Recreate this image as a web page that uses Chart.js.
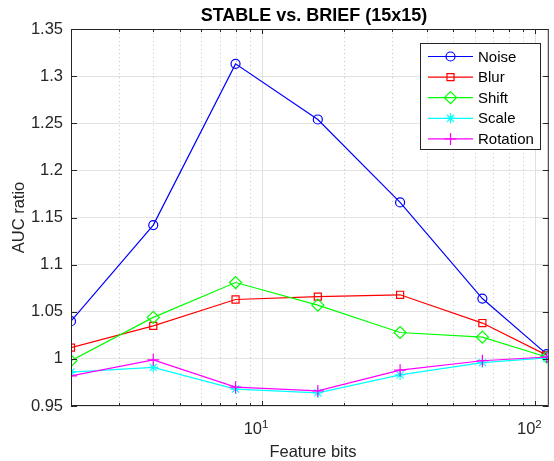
<!DOCTYPE html>
<html>
<head>
<meta charset="utf-8">
<script src="https://cdn.jsdelivr.net/npm/chart.js@4/dist/chart.umd.min.js"></script>
<style>
  html, body { margin: 0; padding: 0; overflow: hidden; background: #fff; }
  canvas { display: block; }
</style>
</head>
<body>
<canvas id="aucChart" width="556" height="461"></canvas>
<script>
// dados
const featureBits = [2, 4, 8, 16, 32, 64, 110];
const noise    = [1.040, 1.142, 1.313, 1.254, 1.166, 1.064, 1.005];
const blur     = [1.012, 1.035, 1.063, 1.066, 1.068, 1.038, 1.004];
const shift    = [0.998, 1.044, 1.081, 1.057, 1.028, 1.023, 1.002];
const scaleSer = [0.986, 0.991, 0.968, 0.964, 0.983, 0.996, 1.001];
const rotation = [0.982, 0.999, 0.970, 0.966, 0.988, 0.998, 1.002];

const yTicks = [0.95, 1, 1.05, 1.1, 1.15, 1.2, 1.25, 1.3, 1.35];
const xMajor = [10, 100];
const xMinor = [2, 3, 4, 5, 6, 7, 8, 9, 20, 30, 40, 50, 60, 70, 80, 90];

const FONT = '"Liberation Sans", Arial, Helvetica, sans-serif';
const AXIS = '#262626';

const series = [
  { label: 'Noise',    data: noise,    color: '#0000ff', style: 'circle',  r: 4.5 },
  { label: 'Blur',     data: blur,     color: '#ff0000', style: 'rect',    r: 5 },
  { label: 'Shift',    data: shift,    color: '#00ff00', style: 'rectRot', r: 6 },
  { label: 'Scale',    data: scaleSer, color: '#00ffff', style: 'star',    r: 5 },
  { label: 'Rotation', data: rotation, color: '#ff00ff', style: 'cross',   r: 6 },
];

const datasets = series.map((s, i) => ({
  label: s.label,
  data: featureBits.map((b, j) => ({ x: b, y: s.data[j] })),
  borderColor: s.color,
  backgroundColor: 'rgba(0,0,0,0)',
  borderWidth: 1.2,
  pointStyle: s.style,
  pointRadius: s.r,
  pointBorderColor: s.color,
  pointBackgroundColor: 'rgba(0,0,0,0)',
  pointBorderWidth: 1.2,
  tension: 0,
  order: series.length - i,
}));

function drawMarker(ctx, s, x, y) {
  if (Chart.helpers && Chart.helpers.drawPoint) {
    ctx.strokeStyle = s.color;
    ctx.fillStyle = 'rgba(0,0,0,0)';
    ctx.lineWidth = 1.2;
    Chart.helpers.drawPoint(ctx, { pointStyle: s.style, radius: s.r, rotation: 0, borderWidth: 1.2 }, x, y);
  }
}

// eixos, grade, rótulos e legenda no estilo MATLAB
const matlabFrame = {
  id: 'matlabFrame',
  beforeDatasetsDraw(chart) {
    const { ctx, chartArea: a, scales: { x } } = chart;
    ctx.save();
    ctx.lineWidth = 1;
    ctx.strokeStyle = '#c8c8c8';
    ctx.setLineDash([1, 3]);
    xMinor.forEach(v => {
      const px = Math.round(x.getPixelForValue(v)) + 0.5;
      ctx.beginPath(); ctx.moveTo(px, a.top); ctx.lineTo(px, a.bottom); ctx.stroke();
    });
    ctx.setLineDash([]);
    ctx.strokeStyle = '#e0e0e0';
    xMajor.forEach(v => {
      const px = Math.round(x.getPixelForValue(v)) + 0.5;
      ctx.beginPath(); ctx.moveTo(px, a.top); ctx.lineTo(px, a.bottom); ctx.stroke();
    });
    ctx.restore();
  },
  afterDatasetsDraw(chart) {
    const { ctx, chartArea: a, scales: { x, y } } = chart;
    ctx.save();
    ctx.strokeStyle = AXIS;
    ctx.lineWidth = 1;
    const L = a.left + 0.5, R = a.right - 0.5, T = a.top + 0.5, B = a.bottom - 0.5;
    ctx.beginPath();
    ctx.moveTo(L, T); ctx.lineTo(R, T); ctx.lineTo(R, B); ctx.lineTo(L, B); ctx.closePath();
    ctx.stroke();

    // marcas dos eixos
    ctx.beginPath();
    yTicks.forEach(v => {
      const py = Math.round(y.getPixelForValue(v)) + 0.5;
      ctx.moveTo(a.left, py); ctx.lineTo(a.left + 6, py);
      ctx.moveTo(a.right, py); ctx.lineTo(a.right - 6, py);
    });
    xMajor.forEach(v => {
      const px = Math.round(x.getPixelForValue(v)) + 0.5;
      ctx.moveTo(px, a.bottom); ctx.lineTo(px, a.bottom - 5);
      ctx.moveTo(px, a.top); ctx.lineTo(px, a.top + 5);
    });
    xMinor.forEach(v => {
      const px = Math.round(x.getPixelForValue(v)) + 0.5;
      ctx.moveTo(px, a.bottom); ctx.lineTo(px, a.bottom - 3);
      ctx.moveTo(px, a.top); ctx.lineTo(px, a.top + 3);
    });
    ctx.stroke();

    // rótulos 10^1, 10^2
    ctx.fillStyle = AXIS;
    xMajor.forEach(v => {
      const px = x.getPixelForValue(v);
      const exp = String(Math.round(Math.log10(v)));
      ctx.font = '16.5px ' + FONT;
      ctx.textAlign = 'right';
      ctx.textBaseline = 'alphabetic';
      ctx.fillText('10', px, 434);
      ctx.font = '11.5px ' + FONT;
      ctx.textAlign = 'left';
      ctx.fillText(exp, px, 428);
    });

    // título e nomes dos eixos
    ctx.font = 'bold 18px ' + FONT;
    ctx.textAlign = 'center';
    ctx.fillStyle = '#000';
    ctx.fillText('STABLE vs. BRIEF (15x15)', 314, 21);
    ctx.fillStyle = AXIS;
    ctx.font = '16.5px ' + FONT;
    ctx.fillText('Feature bits', 313, 457);
    ctx.save();
    ctx.translate(24, (a.top + a.bottom) / 2);
    ctx.rotate(-Math.PI / 2);
    ctx.textBaseline = 'alphabetic';
    ctx.fillText('AUC ratio', 0, 0);
    ctx.restore();

    // legenda
    const lx = 420, ly = 43, lw = 120, lh = 106;
    ctx.fillStyle = '#fff';
    ctx.fillRect(lx, ly, lw, lh);
    ctx.strokeStyle = AXIS;
    ctx.strokeRect(lx + 0.5, ly + 0.5, lw, lh);
    ctx.font = '15px ' + FONT;
    ctx.textAlign = 'left';
    ctx.textBaseline = 'middle';
    series.forEach((s, i) => {
      const cy = 56.5 + i * 20.6;
      ctx.strokeStyle = s.color;
      ctx.lineWidth = 1.2;
      ctx.beginPath(); ctx.moveTo(428, cy); ctx.lineTo(473, cy); ctx.stroke();
      ctx.save();
      drawMarker(ctx, s, 450.5, cy);
      ctx.restore();
      ctx.fillStyle = '#000';
      ctx.fillText(s.label, 478, cy + 1);
    });
    ctx.restore();
  }
};

const chartEl = document.getElementById('aucChart');

new Chart(chartEl, {
  type: 'line',
  data: { datasets },
  options: {
    responsive: false,
    animation: false,
    layout: { padding: { top: 29, right: 1, left: 0, bottom: 0 } },
    plugins: { legend: { display: false }, tooltip: { enabled: false }, title: { display: false } },
    scales: {
      x: {
        type: 'logarithmic',
        min: 2,
        max: 112,
        grid: { display: false },
        border: { display: false },
        ticks: { display: false },
        afterBuildTicks: s => { s.ticks = xMajor.map(v => ({ value: v })); },
        afterFit: s => { s.height = 55; },
      },
      y: {
        type: 'linear',
        min: 0.95,
        max: 1.35,
        grid: { color: '#e3e3e3', drawTicks: false, lineWidth: 1 },
        border: { display: false },
        ticks: {
          padding: 8,
          color: AXIS,
          font: { family: FONT, size: 16.5 },
          callback: v => String(+Number(v).toFixed(2)),
        },
        afterBuildTicks: s => { s.ticks = yTicks.map(v => ({ value: v })); },
        afterFit: s => { s.width = 71; },
      },
    },
  },
  plugins: [matlabFrame],
});
</script>
</body>
</html>
